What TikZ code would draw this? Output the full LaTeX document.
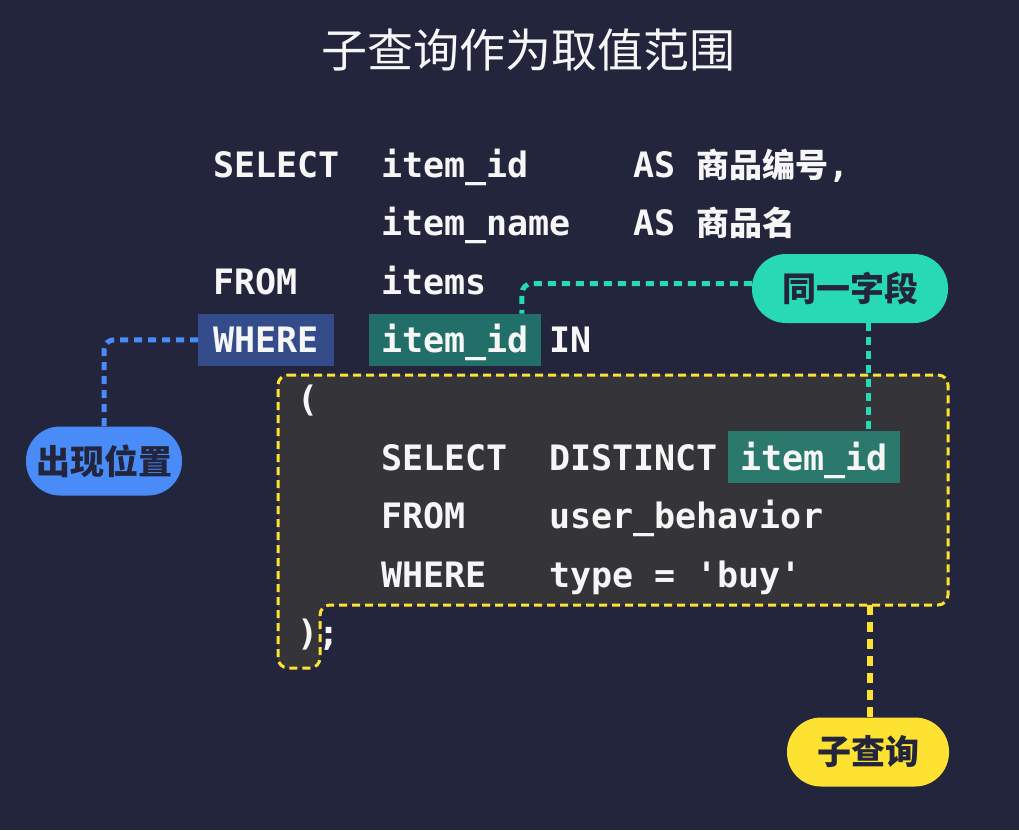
\documentclass[tikz,border=0pt]{standalone}
\usepackage{fontspec}
\usetikzlibrary{calc}
\newfontfamily\codefont{DejaVu Sans Mono}
\newfontfamily\cjk{Noto Sans CJK SC}
\definecolor{bgNavy}{RGB}{35,37,60}
\definecolor{subGray}{RGB}{53,52,57}
\definecolor{txtWhite}{RGB}{246,246,246}
\definecolor{lnYellow}{RGB}{253,226,50}
\definecolor{lnTeal}{RGB}{39,217,181}
\definecolor{lnBlue}{RGB}{74,140,247}
\definecolor{kwFill}{RGB}{53,76,138}
\definecolor{idFill}{RGB}{34,110,104}
\definecolor{idFillIn}{RGB}{43,121,109}

\begin{document}
\begin{tikzpicture}[
      x=1pt, y=-1pt,
      code/.style={anchor=base west, inner sep=0pt, text=txtWhite, font=\codefont\bfseries\fontsize{35}{35}\selectfont},
      hl/.style={code, inner xsep=12pt, inner ysep=0pt, text height=39pt, text depth=13pt},
      pill/.style={rectangle, rounded corners=34pt, minimum height=69pt, inner sep=0pt, text=bgNavy, font=\cjk\bfseries\fontsize{34}{34}\selectfont},
      link/.style={line width=5pt, dash pattern=on 8pt off 6pt, rounded corners=10pt},
      zh/.style={font=\cjk\bfseries\fontsize{33}{33}\selectfont}
  ]
      \useasboundingbox[fill=bgNavy] (0,0) rectangle (1019,830);
      % title
      \node[text=txtWhite, font=\cjk\fontsize{46}{46}\selectfont] (title) at (528,50) {子查询作为取值范围};
      % subquery area
      \draw[fill=subGray, draw=lnYellow, line width=3pt, dash pattern=on 8pt off 5pt, rounded corners=10pt]
          (278,375) -- (948,375) -- (948,605) -- (320,605) -- (320,668) -- (278,668) -- cycle;
      \coordinate (subq) at (870,605);
      % outer query
      \node[code] (sel) at (213,177) {SELECT};
      \node[code] (selId) at (381,177) {item\_id};
      \node[code] (asId) at (633,177) {AS {\cjk\fontsize{33}{33}\selectfont 商品编号},};
      \node[code] (selName) at (381,235.6) {item\_name};
      \node[code] (asName) at (633,235.6) {AS {\cjk\fontsize{33}{33}\selectfont 商品名}};
      \node[code] (from) at (213,294.2) {FROM};
      \node[code] (items) at (381,294.2) {items};
      \node[hl, fill=kwFill, inner xsep=15pt] (where) at (198,352.8) {WHERE};
      \node[hl, fill=idFill] (whereId) at (369,352.8) {item\_id};
      \node[code] (in) at (549,352.8) {IN};
      \node[code] (open) at (297,411.4) {(};
      % inner query
      \node[code] (subSel) at (381,470) {SELECT};
      \node[code] (subDist) at (549,470) {DISTINCT};
      \node[hl, fill=idFillIn] (subId) at (728,470) {item\_id};
      \node[code] (subFrom) at (381,528.6) {FROM};
      \node[code] (subTab) at (549,528.6) {user\_behavior};
      \node[code] (subWhere) at (381,587.2) {WHERE};
      \node[code] (subCond) at (549,587.2) {type = 'buy'};
      \node[code] (close) at (297,645.8) {);};
      % labels
      \node[pill, fill=lnTeal, minimum width=196pt] (same) at (850,288.5) {同一字段};
      \node[pill, fill=lnBlue, minimum width=156pt] (pos) at (104,461) {出现位置};
      \node[pill, fill=lnYellow, minimum width=162pt] (sub) at (868,752) {子查询};
      % connectors
      \draw[link, lnBlue] (where.west) -| (pos.north);
      \draw[link, lnTeal] ([yshift=5pt]same.west) -| ([xshift=-19pt]whereId.north east);
      \draw[link, lnTeal] ([xshift=18pt]same.south) -- ([xshift=18pt]same.south |- subId.north);
      \draw[link, lnYellow, line width=6pt, dash pattern=on 10pt off 7pt] (subq) -- (subq |- sub.north);
  \end{tikzpicture}
\end{document}
